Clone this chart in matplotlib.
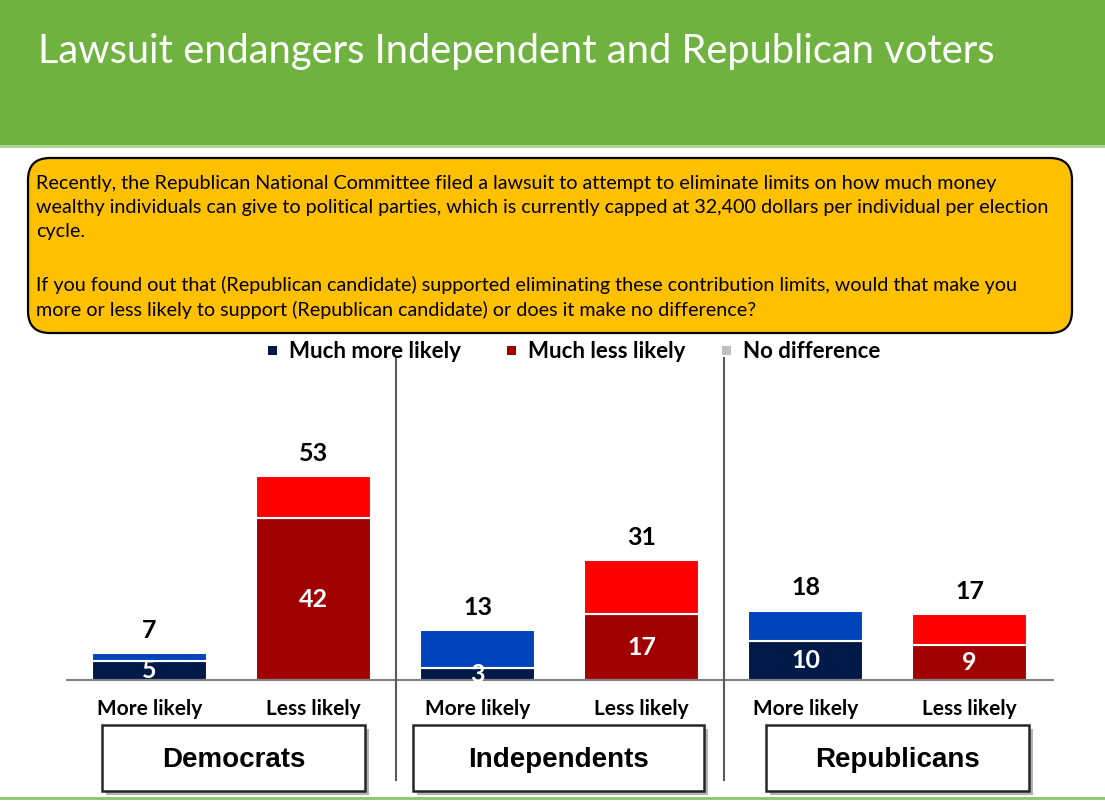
import numpy as np
import matplotlib
matplotlib.use("Agg")
import matplotlib.pyplot as plt
from matplotlib.patches import Rectangle, FancyBboxPatch
from matplotlib.lines import Line2D
from matplotlib import transforms

# data
groups = ["Democrats", "Independents", "Republicans"]
bar_labels = ["More likely", "Less likely"] * 3
totals = [7, 53, 13, 31, 18, 17]
much = [5, 42, 3, 17, 10, 9]
legend_labels = ["Much more likely", "Much less likely", "No difference"]

title = "Lawsuit endangers Independent and Republican voters"
question = [
    "Recently, the Republican National Committee filed a lawsuit to attempt to eliminate limits on how much money",
    "wealthy individuals can give to political parties, which is currently capped at 32,400 dollars per individual per election",
    "cycle.",
    "",
    "If you found out that (Republican candidate) supported eliminating these contribution limits, would that make you",
    "more or less likely to support (Republican candidate) or does it make no difference?",
]

dark_cols = ["#001A48", "#A00000"] * 3
light_cols = ["#0044BB", "#FF0000"] * 3
legend_cols = ["#001A48", "#A00000", "#BFBFBF"]

W, H = 1105, 801
fig = plt.figure(figsize=(W / 100, H / 100), dpi=100)
inch = fig.dpi_scale_trans


def P(x, y):
    # pixel (from top-left) -> inches
    return x / 100, (H - y) / 100


# header
fig.patches.append(Rectangle(P(0, 145), W / 100, 1.45, transform=inch,
                             facecolor="#70B23F", edgecolor="none"))
fig.add_artist(Line2D([0, W / 100], [P(0, 146)[1]] * 2, transform=inch,
                      color="#A9D18E", lw=2))
fig.add_artist(Line2D([0, W / 100], [P(0, 798)[1]] * 2, transform=inch,
                      color="#8CC46A", lw=2))
fig.text(*P(38, 52), title, transform=inch, fontsize=28.7, family="Lato",
         color="white", va="center", ha="left")

# question box
x0, y0 = P(28, 333)
fig.patches.append(FancyBboxPatch((x0, y0), 10.44, 1.75, transform=inch,
                                  boxstyle="round,pad=0,rounding_size=0.22",
                                  facecolor="#FFC000", edgecolor="black", lw=1.6))
line_y = [184, 208, 232, 258, 285, 310]
for s, yy in zip(question, line_y):
    fig.text(*P(36, yy), s, transform=inch, fontsize=14.2, family="Lato",
             color="black", va="center", ha="left")

# legend
leg_x = [272, 511, 726]
for lx, lab, c in zip(leg_x, legend_labels, legend_cols):
    fig.patches.append(Rectangle(P(lx - 4, 355), 0.09, 0.09, transform=inch,
                                 facecolor=c, edgecolor="none"))
    fig.text(*P(lx + 17, 351), lab, transform=inch, fontsize=16,
             family="Lato", weight="bold", color="black", va="center")

# chart
ax = fig.add_axes([67 / W, (H - 680) / H, (1053 - 67) / W, 320 / H])
x = np.arange(len(totals))
tops = np.array(totals) - np.array(much)
ax.bar(x, much, width=0.70, color=dark_cols, edgecolor="white", lw=1.5)
ax.bar(x, tops, bottom=much, width=0.70, color=light_cols, edgecolor="white", lw=1.5)
ax.set_xlim(-0.503, 5.509)
ax.set_ylim(0, 83)
for xi, t, m in zip(x, totals, much):
    ax.annotate(str(t), (xi, t), xytext=(0, 8), textcoords="offset points",
                ha="center", va="bottom", fontsize=18, weight="bold",
                family="Lato", color="black")
    ax.text(xi, m / 2, str(m), ha="center", va="center", fontsize=18,
            weight="bold", family="Lato", color="white")
for side in ["top", "right", "left"]:
    ax.spines[side].set_visible(False)
ax.spines["bottom"].set_color("#808080")
ax.spines["bottom"].set_linewidth(1.5)
ax.set_yticks([])
ax.set_xticks(x)
ax.set_xticklabels(bar_labels, fontsize=15, weight="bold", family="Lato")
ax.tick_params(axis="x", length=0, pad=14)

# separators
bt = transforms.blended_transform_factory(ax.transData, fig.transFigure)
for sx in [1.5, 3.5]:
    fig.add_artist(Line2D([sx, sx], [(H - 358) / H, (H - 780) / H],
                          transform=bt, color="#595959", lw=1.5))

# group boxes
boxes = [(102, 365), (413, 704), (766, 1029)]
for (bx0, bx1), g in zip(boxes, groups):
    fig.patches.append(Rectangle(P(bx0 + 4, 795), (bx1 - bx0) / 100, 0.66,
                                 transform=inch, facecolor="#7F7F7F",
                                 edgecolor="none", alpha=0.6))
    fig.patches.append(Rectangle(P(bx0, 791), (bx1 - bx0) / 100, 0.66,
                                 transform=inch, facecolor="white",
                                 edgecolor="#262626", lw=1.8))
    fig.text(*P((bx0 + bx1) / 2, 760), g, transform=inch, fontsize=20,
             family="Liberation Sans", weight="bold", ha="center", va="center")

fig.savefig("out.png", dpi=100)
